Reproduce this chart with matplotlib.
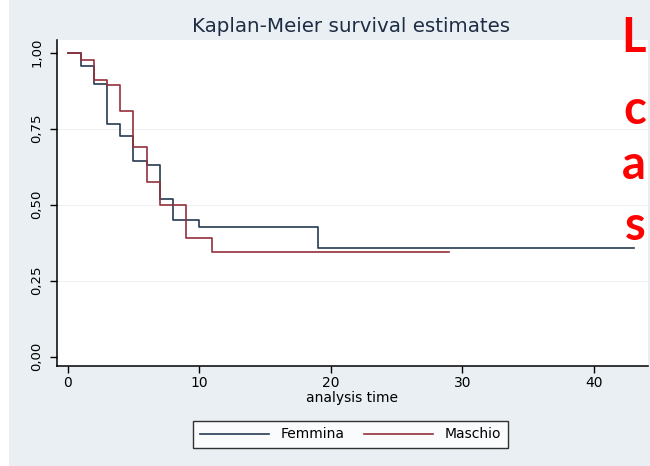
import matplotlib
matplotlib.use('Agg')
import matplotlib.pyplot as plt
from matplotlib.patches import Rectangle

# Kaplan-Meier step estimates by group
fem_t = [0, 1, 2, 3, 4, 5, 6, 7, 8, 10, 19, 43]
fem_s = [1.0, 0.957, 0.896, 0.765, 0.726, 0.645, 0.631, 0.519, 0.45, 0.428, 0.357, 0.357]
mas_t = [0, 1, 2, 3, 4, 5, 6, 7, 9, 11, 29]
mas_s = [1.0, 0.976, 0.91, 0.893, 0.809, 0.69, 0.576, 0.498, 0.39, 0.345, 0.345]

groups = ['Femmina', 'Maschio']
colors = ['#263b52', '#93303c']
xticks = [0, 10, 20, 30, 40]
yticks = [0.0, 0.25, 0.5, 0.75, 1.0]
ytick_labels = ['0,00', '0,25', '0,50', '0,75', '1,00']
side_letters = ['L', 'c', 'a', 's']

W, H = 650, 466
fig = plt.figure(figsize=(W / 100, H / 100), dpi=100, facecolor='#e9eff3')
plt.rcParams['font.family'] = ['DejaVu Sans']

# white strip along the left edge
fig.patches.append(Rectangle((0, 0), 9 / W, 1, transform=fig.transFigure,
                             facecolor='white', edgecolor='none', zorder=0))

ax = fig.add_axes([57 / W, 1 - 366 / H, 591 / W, 326 / H])
ax.set_facecolor('white')

ax.step(fem_t, fem_s, where='post', color=colors[0], lw=1.2, label=groups[0])
ax.step(mas_t, mas_s, where='post', color=colors[1], lw=1.2, label=groups[1])

for y in yticks[1:4]:
    ax.axhline(y, color='#eef1f3', lw=0.8, zorder=0)

ax.set_xlim(-0.8, 44.1)
ax.set_ylim(-0.031, 1.042)
ax.set_xticks(xticks)
ax.set_yticks(yticks)
ax.set_yticklabels(ytick_labels, rotation=90, va='center')
ax.tick_params(axis='both', direction='out', length=5, width=1, colors='black',
               labelsize=10)
ax.tick_params(axis='y', pad=5, labelsize=9.5)
ax.tick_params(axis='x', pad=2)
for side in ['top', 'right']:
    ax.spines[side].set_visible(False)
for side in ['left', 'bottom']:
    ax.spines[side].set_linewidth(1.1)

ax.set_xlabel('analysis time', fontsize=10, labelpad=1)

fig.text(351 / W, 1 - 27 / H, 'Kaplan-Meier survival estimates', ha='center',
         va='center', fontsize=14.3, color='#1e2d44')

leg = fig.legend(loc='center', bbox_to_anchor=(350.5 / W, 1 - 434.5 / H), ncol=2,
                 frameon=True, fancybox=False, edgecolor='black', fontsize=10,
                 handlelength=5, columnspacing=1.4, borderpad=0.5)
leg.get_frame().set_linewidth(1.0)
leg.get_frame().set_facecolor('white')

# red slide text along the right edge
for letter, yb in zip(side_letters, [52, 124, 179, 240]):
    fig.text(646 / W, 1 - yb / H, letter, ha='right', va='baseline', fontsize=34,
             color='#ff0000', fontweight='bold', family=['Lato', 'DejaVu Sans'])

fig.savefig('out.png', dpi=100, facecolor=fig.get_facecolor())
